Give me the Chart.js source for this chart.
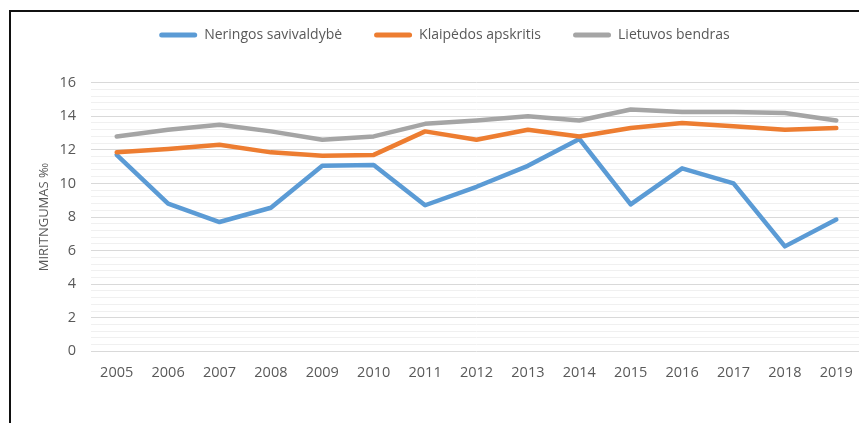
<!DOCTYPE html>
<html><head><meta charset="utf-8">
<script src="https://cdn.jsdelivr.net/npm/chart.js@4.4.1/dist/chart.umd.min.js"></script>
<style>
html,body{margin:0;padding:0;background:#fff;width:859px;height:423px;overflow:hidden;position:relative}
#wrap{position:absolute;left:10px;top:-10px;width:869px;height:433px}
#frame{position:absolute;left:9px;top:10px;width:900px;height:500px;border-left:2px solid #111;border-top:2px solid #111;pointer-events:none}
</style></head><body>
<div id="wrap"><canvas id="c"></canvas></div>
<div id="frame"></div>
<script>
const years = ['2005','2006','2007','2008','2009','2010','2011','2012','2013','2014','2015','2016','2017','2018','2019'];
const neringa  = [11.7, 8.8, 7.7, 8.55, 11.05, 11.1, 8.7, 9.8, 11.05, 12.65, 8.75, 10.9, 10.0, 6.25, 7.85];
const klaipeda = [11.85, 12.05, 12.3, 11.85, 11.65, 11.7, 13.1, 12.6, 13.2, 12.8, 13.3, 13.6, 13.4, 13.2, 13.3];
const lietuva  = [12.8, 13.2, 13.5, 13.1, 12.6, 12.8, 13.55, 13.75, 14.0, 13.75, 14.4, 14.25, 14.25, 14.2, 13.75];
const seriesNames = ['Neringos savivaldybė', 'Klaipėdos apskritis', 'Lietuvos bendras'];
const seriesColors = ['#5B9BD5', '#ED7D31', '#A5A5A5'];
const yTitle = 'MIRITNGUMAS ‰';

const FONT = "'Open Sans', sans-serif";
const TXT = '#595959';
const isMajor = v => Math.abs(v / 2 - Math.round(v / 2)) < 1e-6;

const legendGap = {
  id: 'legendGap',
  beforeInit(chart) {
    const fit = chart.legend.fit;
    chart.legend.fit = function () { fit.call(this); this.height += 30.7; };
  }
};

function ds(i, data, order) {
  return {
    label: seriesNames[i], data: data,
    borderColor: seriesColors[i], backgroundColor: seriesColors[i],
    borderWidth: 4.5, pointRadius: 0, pointHoverRadius: 0, tension: 0, fill: false,
    borderCapStyle: 'round', borderJoinStyle: 'round', order: order
  };
}

new Chart(document.getElementById('c'), {
  type: 'line',
  data: { labels: years, datasets: [ds(0, neringa, 3), ds(1, klaipeda, 2), ds(2, lietuva, 1)] },
  plugins: [legendGap],
  options: {
    responsive: true, maintainAspectRatio: false, animation: false, devicePixelRatio: 1,
    layout: { padding: { left: 17, right: 17, top: 6, bottom: 0 } },
    plugins: {
      tooltip: { enabled: false },
      legend: {
        position: 'top', align: 'center',
        labels: {
          boxWidth: 38, boxHeight: 5, padding: 32, color: TXT,
          useBorderRadius: true, borderRadius: 2.5,
          font: { family: FONT, size: 14 },
          sort: (a, b) => a.datasetIndex - b.datasetIndex,
          generateLabels(chart) {
            return Chart.defaults.plugins.legend.labels.generateLabels(chart).map(it =>
              Object.assign(it, { lineWidth: 0, fillStyle: seriesColors[it.datasetIndex], strokeStyle: seriesColors[it.datasetIndex], borderRadius: 2.5 }));
          }
        }
      }
    },
    scales: {
      x: {
        offset: true,
        grid: { display: false, drawTicks: false },
        border: { display: false },
        ticks: { color: TXT, padding: 13, font: { family: FONT, size: 14.5 }, maxRotation: 0, autoSkip: false },
        afterFit(s) { s.height = 71.7; }
      },
      y: {
        min: 0, max: 16,
        border: { display: false },
        grid: {
          drawTicks: false, lineWidth: 1,
          color: ctx => isMajor(ctx.tick.value) ? '#d9d9d9' : '#f0f0f0'
        },
        ticks: {
          stepSize: 0.4, maxTicksLimit: 100, autoSkip: false, padding: 15, color: TXT,
          font: { family: FONT, size: 14.5 },
          callback: v => isMajor(v) ? String(Math.round(v)) : ''
        },
        title: { display: true, text: yTitle, color: TXT, font: { family: FONT, size: 13 }, padding: { top: 9.8, bottom: 0 } },
        afterFit(s) { s.width = 64; }
      }
    }
  }
});
</script>
</body></html>
